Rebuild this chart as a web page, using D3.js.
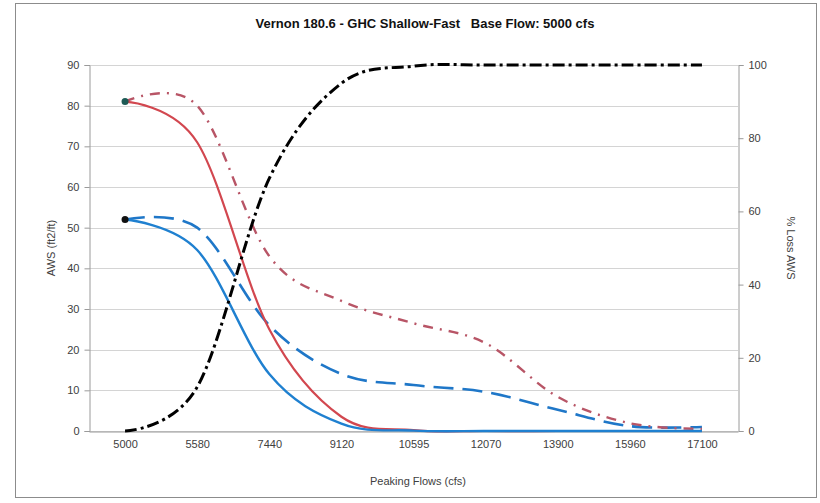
<!DOCTYPE html>
<html>
<head>
<meta charset="utf-8">
<script src="https://cdn.jsdelivr.net/npm/d3@7"></script>
<style>
  body { margin: 0; background: #fff; }
  text { font-family: "Liberation Sans", Arial, sans-serif; fill: #404040; }
</style>
</head>
<body>
<svg id="chart"></svg>
<script>
// Peaking flow categories (x axis)
const flows = ['5000', '5580', '7440', '9120', '10595', '12070', '13900', '15960', '17100'];

// AWS series (left axis, ft2/ft)
const redSolid = [81, 71, 25, 3.5, 0.2, 0, 0, 0, 0];
const redDashDot = [81, 80, 43, 32, 26.5, 21.6, 8.4, 1.9, 0.5];
const blueSolid = [52, 44.5, 14, 1.8, 0.1, 0, 0, 0, 0];
const blueDashed = [52, 50, 26, 14, 11.3, 9.6, 5.2, 1.2, 1.0];

// % loss series (right axis)
const pctLoss = [0, 12, 69, 95, 99.7, 100, 100, 100, 100];

const leftTicks = d3.range(0, 91, 10);
const rightTicks = d3.range(0, 101, 20);

const width = 820, height = 503;
const margin = { top: 65, right: 82, bottom: 72, left: 89 };

const svg = d3.select('#chart')
  .attr('width', width)
  .attr('height', height)
  .attr('viewBox', `0 0 ${width} ${height}`);

// Chart frame
svg.append('rect')
  .attr('x', 15.5).attr('y', 3.5)
  .attr('width', 801).attr('height', 494)
  .attr('fill', '#fff')
  .attr('stroke', '#8c8c8c');

const x = d3.scalePoint()
  .domain(flows)
  .range([margin.left, width - margin.right])
  .padding(0.5);

const yL = d3.scaleLinear().domain([0, 90]).range([height - margin.bottom, margin.top]);
const yR = d3.scaleLinear().domain([0, 100]).range([height - margin.bottom, margin.top]);

const g = svg.append('g');

// Gridlines
g.append('g')
  .selectAll('line')
  .data(leftTicks)
  .join('line')
  .attr('x1', margin.left).attr('x2', width - margin.right)
  .attr('y1', d => Math.round(yL(d)) + 0.5).attr('y2', d => Math.round(yL(d)) + 0.5)
  .attr('stroke', '#d4d4d4');

// Left axis
const axL = g.append('g')
  .attr('transform', `translate(${margin.left + 0.5},0)`)
  .call(d3.axisLeft(yL).tickValues(leftTicks).tickSize(5).tickPadding(5));
axL.select('.domain').attr('stroke', '#9a9a9a');
axL.selectAll('.tick line').attr('stroke', '#9a9a9a');
axL.selectAll('text').attr('font-size', '11px').attr('fill', '#404040');

// Right axis
const axR = g.append('g')
  .attr('transform', `translate(${width - margin.right + 0.5},0)`)
  .call(d3.axisRight(yR).tickValues(rightTicks).tickSize(5).tickPadding(5));
axR.select('.domain').attr('stroke', '#9a9a9a');
axR.selectAll('.tick line').attr('stroke', '#9a9a9a');
axR.selectAll('text').attr('font-size', '11px').attr('fill', '#404040');

// Bottom axis
const axB = g.append('g')
  .attr('transform', `translate(0,${height - margin.bottom + 0.5})`)
  .call(d3.axisBottom(x).tickSize(0).tickPadding(9));
axB.select('.domain').attr('stroke', '#9a9a9a');
axB.selectAll('text').attr('font-size', '11px').attr('fill', '#404040');

const curve = d3.curveCardinal.tension(0);

const lineL = d3.line()
  .x((d, i) => x(flows[i]))
  .y(d => yL(d))
  .curve(curve);

const lineR = d3.line()
  .x((d, i) => x(flows[i]))
  .y(d => yR(d))
  .curve(curve);

const series = [
  { values: blueDashed, line: lineL, color: '#1f77c8', width: 2.6, dash: '20,9' },
  { values: redDashDot, line: lineL, color: '#b85566', width: 2.4, dash: '10,7,2,7' },
  { values: redSolid, line: lineL, color: '#d2474f', width: 2.2, dash: null },
  { values: blueSolid, line: lineL, color: '#1f80d0', width: 2.4, dash: null },
  { values: pctLoss, line: lineR, color: '#000', width: 3, dash: '12,4,3,4' }
];

g.selectAll('.series')
  .data(series)
  .join('path')
  .attr('class', 'series')
  .attr('d', d => d.line(d.values))
  .attr('fill', 'none')
  .attr('stroke', d => d.color)
  .attr('stroke-width', d => d.width)
  .attr('stroke-dasharray', d => d.dash);

// Start markers
g.append('circle')
  .attr('cx', x(flows[0])).attr('cy', yL(redSolid[0]))
  .attr('r', 3.5).attr('fill', '#1d5a55');
g.append('circle')
  .attr('cx', x(flows[0])).attr('cy', yL(blueSolid[0]))
  .attr('r', 3.5).attr('fill', '#111');

// Title
svg.append('text')
  .attr('x', 425).attr('y', 28)
  .attr('text-anchor', 'middle')
  .attr('font-size', '13px')
  .attr('font-weight', 'bold')
  .style('fill', '#111')
  .attr('xml:space', 'preserve')
  .text('Vernon 180.6 - GHC Shallow-Fast   Base Flow: 5000 cfs');

// Axis titles
svg.append('text')
  .attr('transform', `translate(55,${(margin.top + height - margin.bottom) / 2}) rotate(-90)`)
  .attr('text-anchor', 'middle')
  .attr('font-size', '11px')
  .text('AWS (ft2/ft)');

svg.append('text')
  .attr('transform', `translate(787,${(margin.top + height - margin.bottom) / 2}) rotate(90)`)
  .attr('text-anchor', 'middle')
  .attr('font-size', '11px')
  .text('% Loss AWS');

svg.append('text')
  .attr('x', 418).attr('y', 485)
  .attr('text-anchor', 'middle')
  .attr('font-size', '11px')
  .text('Peaking Flows (cfs)');
</script>
</body>
</html>
